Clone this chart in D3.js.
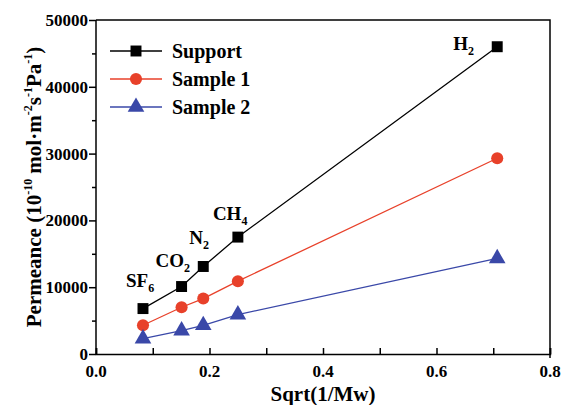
<!DOCTYPE html>
<html>
<head>
<meta charset="utf-8">
<script src="https://cdn.jsdelivr.net/npm/d3@7"></script>
<style>
  body { margin: 0; background: #fff; }
</style>
</head>
<body>
<script>
// gases and their sqrt(1/Mw)
var gases = ["SF6", "CO2", "N2", "CH4", "H2"];
var sqrtInvMw = [0.0828, 0.1508, 0.189, 0.25, 0.707];

// permeance values, 10^-10 mol m-2 s-1 Pa-1
var support = [6800, 10100, 13100, 17500, 46000];
var sample1 = [4300, 7000, 8300, 10900, 29300];
var sample2 = [2300, 3500, 4300, 5900, 14300];

var seriesNames = ["Support", "Sample 1", "Sample 2"];
var xTicks = [0.0, 0.2, 0.4, 0.6, 0.8];
var yTicks = [0, 10000, 20000, 30000, 40000, 50000];

var serif = "Liberation Serif";

window.onload = drawChart();

//add a bold serif text element
function addText(sel, size){
    return sel.append("text")
        .attr("font-family", serif)
        .attr("font-weight", "bold")
        .attr("font-size", size);
}

function drawChart(){
    var width = 563,
        height = 405;
    var margin = {left: 96, right: 13, top: 20, bottom: 51};

    var svg = d3.select("body")
        .append("svg")
        .attr("width", width)
        .attr("height", height);

    var x = d3.scaleLinear()
        .domain([0, 0.8])
        .range([margin.left, width - margin.right]);

    var y = d3.scaleLinear()
        .domain([0, 50000])
        .range([height - margin.bottom, margin.top]);

    var colors = ["#000000", "#e8412a", "#3a48a8"];
    var series = [support, sample1, sample2];

    //frame (top and right)
    svg.append("path")
        .attr("d", "M" + x(0) + "," + y(50000) + "H" + x(0.8) + "V" + (y(0) + 4))
        .attr("fill", "none")
        .attr("stroke", "#000")
        .attr("stroke-width", 1.5);

    //x axis, ticks pointing up into the plot
    var xAxis = svg.append("g")
        .attr("transform", "translate(0," + y(0) + ")")
        .call(d3.axisBottom(x).tickValues(d3.range(0, 0.81, 0.1)).tickSize(-6).tickFormat(""));
    xAxis.selectAll("text").remove();
    xAxis.selectAll(".tick line").attr("stroke-width", 1.5);
    xAxis.select(".domain").attr("stroke-width", 1.5);

    xTicks.forEach(function(d){
        addText(svg, 17)
            .attr("x", x(d))
            .attr("y", y(0) + 23)
            .attr("text-anchor", "middle")
            .text(d3.format(".1f")(d));
    });

    //y axis, ticks pointing outward
    var yAxis = svg.append("g")
        .attr("transform", "translate(" + x(0) + ",0)")
        .call(d3.axisLeft(y).tickValues(d3.range(0, 50001, 5000)).tickSize(6).tickFormat(""));
    yAxis.selectAll("text").remove();
    yAxis.selectAll(".tick line")
        .attr("stroke-width", 1.5)
        .attr("x2", function(d){ return d % 10000 === 0 ? -7 : -4; });
    yAxis.select(".domain").attr("d", "M0," + y(0) + "V" + y(50000)).attr("stroke-width", 1.5);

    yTicks.forEach(function(d){
        addText(svg, 17)
            .attr("x", x(0) - 8)
            .attr("y", y(d) + 6)
            .attr("text-anchor", "end")
            .text(d);
    });

    //axis titles
    addText(svg, 21)
        .attr("x", x(0.4))
        .attr("y", height - 4)
        .attr("text-anchor", "middle")
        .text("Sqrt(1/Mw)");

    var yTitle = addText(svg, 21)
        .attr("transform", "translate(41," + ((y(0) + y(50000)) / 2) + ") rotate(-90)")
        .attr("text-anchor", "middle");
    yTitle.append("tspan").text("Permeance (10");
    yTitle.append("tspan").attr("font-size", 12).attr("dy", -9).text("-10");
    yTitle.append("tspan").attr("dy", 9).text(" mol\u00b7m");
    yTitle.append("tspan").attr("font-size", 12).attr("dy", -9).text("-2");
    yTitle.append("tspan").attr("dy", 9).text("s");
    yTitle.append("tspan").attr("font-size", 12).attr("dy", -9).text("-1");
    yTitle.append("tspan").attr("dy", 9).text("Pa");
    yTitle.append("tspan").attr("font-size", 12).attr("dy", -9).text("-1");
    yTitle.append("tspan").attr("dy", 9).text(")");

    //lines and markers
    var line = d3.line()
        .x(function(d, i){ return x(sqrtInvMw[i]); })
        .y(function(d){ return y(d); });

    var symbols = [d3.symbolSquare, d3.symbolCircle, d3.symbolTriangle];
    var symSizes = [120, 115, 120];

    series.forEach(function(vals, s){
        svg.append("path")
            .datum(vals)
            .attr("d", line)
            .attr("fill", "none")
            .attr("stroke", colors[s])
            .attr("stroke-width", 1.3);

        svg.selectAll(".pt" + s)
            .data(vals)
            .enter()
            .append("path")
            .attr("class", "pt" + s)
            .attr("transform", function(d, i){
                return "translate(" + x(sqrtInvMw[i]) + "," + y(d) + ")";
            })
            .attr("d", d3.symbol().type(symbols[s]).size(symSizes[s]))
            .attr("fill", colors[s]);
    });

    //gas labels next to the support points
    var labelOffsets = [[-17, -22], [-26, -20], [-14, -22], [-25, -17], [-44, 3]];
    gases.forEach(function(g, i){
        var t = addText(svg, 19)
            .attr("x", x(sqrtInvMw[i]) + labelOffsets[i][0])
            .attr("y", y(support[i]) + labelOffsets[i][1]);
        var m = g.match(/^([A-Za-z]+)(\d+)$/);
        t.append("tspan").text(m[1]);
        t.append("tspan").attr("font-size", 12).attr("dy", 5).text(m[2]);
    });

    //legend
    var legend = svg.append("g")
        .attr("transform", "translate(110,51)");
    seriesNames.forEach(function(name, s){
        var row = legend.append("g")
            .attr("transform", "translate(0," + (s * 28) + ")");
        row.append("line")
            .attr("x1", 0).attr("x2", 52)
            .attr("stroke", colors[s])
            .attr("stroke-width", 1.3);
        row.append("path")
            .attr("transform", "translate(26,0)")
            .attr("d", d3.symbol().type(symbols[s]).size(symSizes[s]))
            .attr("fill", colors[s]);
        addText(row, 20)
            .attr("x", 62)
            .attr("y", 7)
            .text(name);
    });
}
</script>
</body>
</html>
